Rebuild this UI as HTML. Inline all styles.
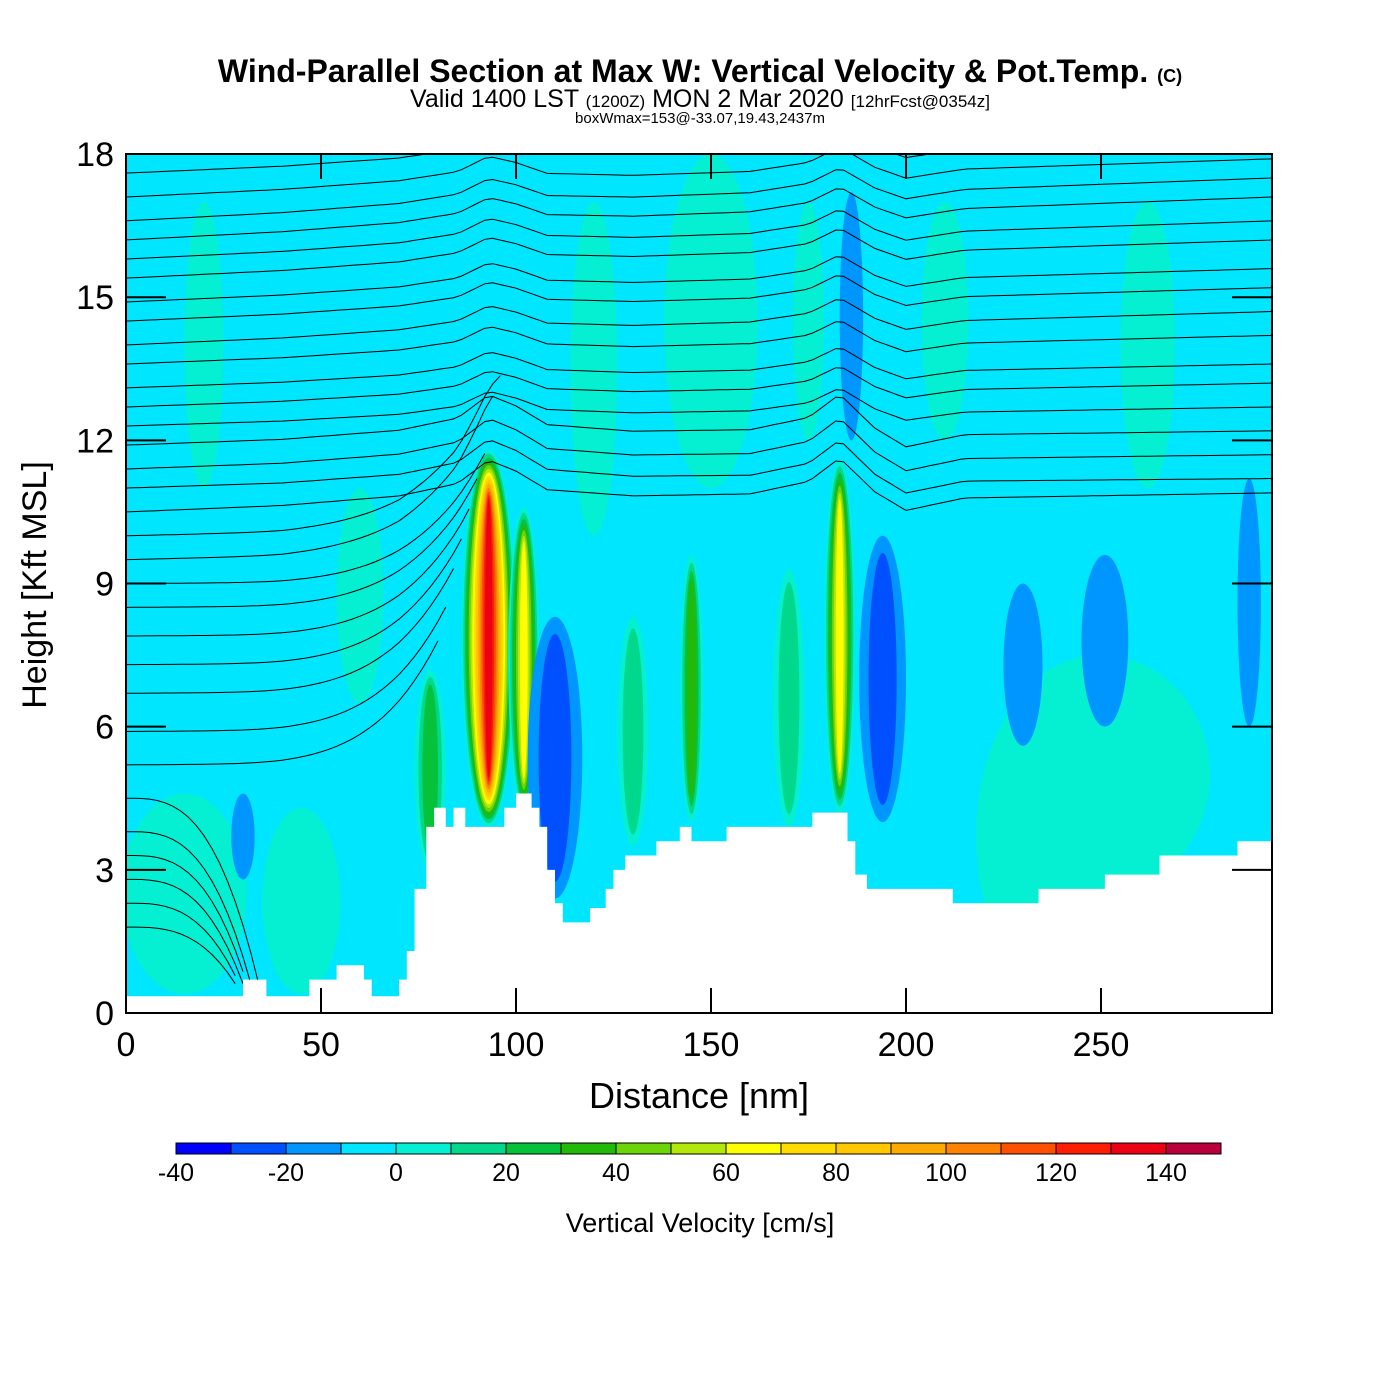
<!DOCTYPE html>
<html><head><meta charset="utf-8"><style>
body{margin:0;background:#fff;width:1400px;height:1400px;overflow:hidden;font-family:"Liberation Sans",sans-serif}
svg{position:absolute;left:0;top:0}
</style></head><body>
<svg id="chart" width="1400" height="1400">
<text x="700" y="82" text-anchor="middle" font-size="32" font-weight="bold">Wind-Parallel Section at Max W: Vertical Velocity &amp; Pot.Temp. <tspan font-size="18">(C)</tspan></text>
<text x="700" y="107" text-anchor="middle" font-size="25">Valid 1400 LST <tspan font-size="17">(1200Z)</tspan> MON 2 Mar 2020 <tspan font-size="17">[12hrFcst@0354z]</tspan></text>
<text x="700" y="123" text-anchor="middle" font-size="15">boxWmax=153@-33.07,19.43,2437m</text>
<defs><clipPath id="pc"><rect x="126" y="154" width="1146" height="859"/></clipPath></defs>
<g id="plot" clip-path="url(#pc)"></g>
<g id="axes"></g>
<g id="cbar"></g>
</svg>
<script>
const levels=[-40,-30,-20,-10,0,10,20,30,40,50,60,70,80,90,100,110,120,130,140,150];
const colors=["#0000ff","#0050ff","#0096ff","#00e6ff","#05f0d2","#00d98c","#06c13a","#22b90a","#6ed40a","#b4e80a","#ffff00","#ffdc00","#ffc800","#ffaa00","#ff8200","#ff5000","#ff1e00","#eb0014","#b9003c"];
const xTicks=[0,50,100,150,200,250];
const yTicks=[0,3,6,9,12,15,18];
// cells: center distance (nm), bottom (kft), top (kft), half width (nm), peak value (cm/s)
const cellX=[15,45,150,30,93,102,145,183,78,130,170,240,250,110,194,186,230,251,288,20,262,60,120,210,175];
const cellBot=[0.4,0.4,11,2.8,3.9,4.2,4.0,4.2,3.0,3.5,3.9,0.4,2.5,2.4,4.0,12.0,5.6,6.0,6.0,11,11,6.5,10,12,12];
const cellTop=[4.6,4.3,18,4.6,11.8,10.6,9.6,11.6,7.2,8.3,9.3,7.0,7.5,8.3,10.0,17.2,9.0,9.6,11.2,17,17,11,17,17,17];
const cellW=[16,10,12,3,7,4,3,4,4,4,4,22,28,7,6,3,5,6,3,5,7,6,6,6,4];
const cellVal=[10,10,10,-20,140,70,40,70,30,20,20,10,10,-30,-30,-20,-20,-20,-20,10,10,10,10,10,10];
// terrain
const terrD=[0,30,30,36,36,47,47,54,54,61,61,63,63,70,70,72,72,74,74,77,77,79,79,82,82,84,84,87,87,89,89,97,97,100,100,104,104,106,106,108,108,110,110,112,112,119,119,123,123,125,125,128,128,136,136,142,142,145,145,154,154,176,176,185,185,187,187,190,190,212,212,234,234,251,251,265,265,285,285,294];
const terrH=[0.35,0.35,0.7,0.7,0.35,0.35,0.7,0.7,1.0,1.0,0.7,0.7,0.35,0.35,0.7,0.7,1.3,1.3,2.6,2.6,3.9,3.9,4.3,4.3,3.9,3.9,4.3,4.3,3.9,3.9,3.9,3.9,4.3,4.3,4.6,4.6,4.3,4.3,3.9,3.9,3.0,3.0,2.3,2.3,1.9,1.9,2.2,2.2,2.6,2.6,3.0,3.0,3.3,3.3,3.6,3.6,3.9,3.9,3.6,3.6,3.9,3.9,4.2,4.2,3.6,3.6,2.9,2.9,2.6,2.6,2.3,2.3,2.6,2.6,2.9,2.9,3.3,3.3,3.6,3.6];
// theta lines: left height, right height, end distance
const thL=[17.6,17.1,16.6,16.2,15.8,15.4,14.9,14.5,14.0,13.6,13.1,12.7,12.3,11.9,11.4,11.0,10.5,10.0,9.5,9.0,8.5,7.9,7.3,6.7,5.9,5.2,4.5,3.8,3.3,2.8,2.3,1.8];
const thR=[18.3,17.9,17.5,17.1,16.6,16.2,15.6,15.2,14.7,14.2,13.6,13.2,12.7,12.2,11.7,11.2,10.9,10,9.5,9,8.5,7.9,7.3,6.7,5.9,5.2,4.5,3.8,3.3,2.8,2.3,1.8];
const thEnd=[294,294,294,294,294,294,294,294,294,294,294,294,294,294,294,294,294,96,94,92,90,88,86,84,82,80,34,32,31,30,29,28];
const bumpD=[0,40,70,85,93,100,108,130,160,175,183,192,200,215,240,294];
const bumpA=[0,0.05,0.15,0.3,0.6,0.45,0.2,0.1,0.1,0.25,0.55,0.1,-0.15,0,0,0];
const X=d=>126+d*3.9, Y=h=>1013-h*47.72;
const NS="http://www.w3.org/2000/svg";
function el(t,a,p){const e=document.createElementNS(NS,t);for(const k in a)e.setAttribute(k,a[k]);p.appendChild(e);return e;}
function colorOf(v){for(let i=0;i<colors.length;i++)if(v<levels[i+1])return colors[i];return colors[colors.length-1];}
const plot=document.getElementById('plot');
const bg=el('rect',{x:126,y:154,width:1146,height:859,fill:colors[3]},plot);


for(let c=0;c<cellX.length;c++){
  const v=cellVal[c];const n=v>0?Math.floor(v/10)+1:Math.floor(-v/10);
  for(let k=0;k<n;k++){
    const lv=v>0?k*10:-(k*10)-10;
    if(v>0&&lv>=v)break;
    if(v<0&&k==0)continue;
    const f=v<0?1-(k-1)/n*1.2:1-k/n;const cy=(cellBot[c]+cellTop[c])/2, hh=(cellTop[c]-cellBot[c])/2*(0.7+0.3*f);
    const e=el('ellipse',{cx:X(cellX[c]),cy:Y(cy),rx:cellW[c]*3.9*f,ry:hh*47.72,fill:colorOf(lv+5)},plot);
    
    
  }
}
// theta contours
function bump(d){for(let i=0;i<bumpD.length-1;i++)if(d<=bumpD[i+1]){const t=(d-bumpD[i])/(bumpD[i+1]-bumpD[i]);return bumpA[i]+t*(bumpA[i+1]-bumpA[i]);}return 0;}
for(let i=0;i<thL.length;i++){
  let pts=[];
  const amp=thL[i]>12?1:(thL[i]>9?1.6:0.4);
  for(let d=0;d<=thEnd[i];d+=2){const f=d/294;let h=thL[i]+(thR[i]-thL[i])*f+bump(d)*amp;if(thEnd[i]<294){h+=(d/thEnd[i])**(thEnd[i]<40?3:5)*(thEnd[i]<40?-thL[i]+0.6:2.5);}pts.push(X(d).toFixed(1)+','+Y(h).toFixed(1));}
  const p=el('polyline',{points:pts.join(' '),fill:'none',stroke:'#000','stroke-width':1},plot);
  
  
}
let tp='M126,1013 ';for(let i=0;i<terrD.length;i++)tp+='L'+X(terrD[i])+','+Y(terrH[i])+' ';tp+='L1272,1013Z';
const ter=el('path',{d:tp,fill:'#fff'},plot);


const ax=document.getElementById('axes');
const fr=el('rect',{x:126,y:154,width:1146,height:859,fill:'none',stroke:'#000','stroke-width':2},ax);


xTicks.forEach(t=>{el('line',{x1:X(t),x2:X(t),y1:1013,y2:988,stroke:'#000','stroke-width':2},ax);el('line',{x1:X(t),x2:X(t),y1:154,y2:179,stroke:'#000','stroke-width':2},ax);
 const tx=el('text',{x:X(t),y:1056,'text-anchor':'middle','font-size':34},ax);tx.textContent=t;
 
 });
yTicks.forEach(t=>{el('line',{x1:126,x2:166,y1:Y(t),y2:Y(t),stroke:'#000','stroke-width':2},ax);el('line',{x1:1232,x2:1272,y1:Y(t),y2:Y(t),stroke:'#000','stroke-width':2},ax);
 const tx=el('text',{x:114,y:Y(t)+12,'text-anchor':'end','font-size':34},ax);tx.textContent=t;
 
 });
const xt=el('text',{x:699,y:1108,'text-anchor':'middle','font-size':36},ax);xt.textContent='Distance [nm]';


const yt=el('text',{x:46,y:585,'text-anchor':'middle','font-size':34,transform:'rotate(-90 46 585)'},ax);yt.textContent='Height [Kft MSL]';


const cb=document.getElementById('cbar');
for(let i=0;i<colors.length;i++){const r=el('rect',{x:176+i*55,y:1143,width:55,height:11,fill:colors[i],stroke:'#000','stroke-width':1},cb);
 
 }
for(let i=0;i<levels.length;i+=2){const t=el('text',{x:176+i*55,y:1181,'text-anchor':'middle','font-size':25},cb);t.textContent=levels[i];
 
 }
const ct=el('text',{x:700,y:1232,'text-anchor':'middle','font-size':27},cb);ct.textContent='Vertical Velocity [cm/s]';


</script>
</body></html>
